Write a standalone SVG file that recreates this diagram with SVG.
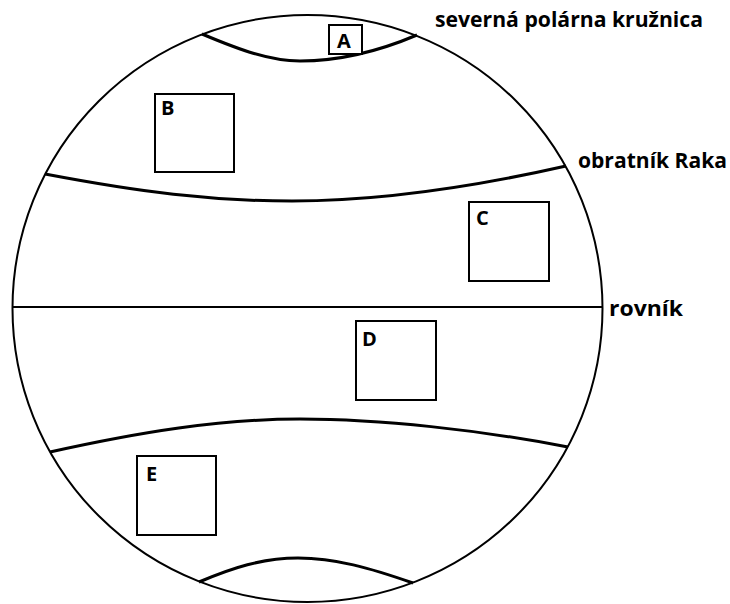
<svg xmlns="http://www.w3.org/2000/svg" width="730" height="604" viewBox="0 0 730 604">
<style>
.globe{fill:none;stroke:#000;stroke-width:2}
.lat{fill:none;stroke:#000;stroke-width:3;stroke-linejoin:round}
.eq{fill:none;stroke:#000;stroke-width:2}
.box{fill:#fff;stroke:#000;stroke-width:2}
.t{font-family:"Open Sans","Noto Sans","Liberation Sans",sans-serif;font-weight:700;font-size:21px;fill:#000}
.k{font-family:"Open Sans","Noto Sans","Liberation Sans",sans-serif;font-weight:700;font-size:20px;fill:#000}
</style>
<rect width="730" height="604" fill="#fff"/>
<g id="connectors">
<ellipse class="globe" cx="307.5" cy="308.5" rx="295" ry="293.5"/>
<path class="lat" d="M202,34 C240,50 270,61 300,61 C330,61 370,55 417,35"/>
<path class="lat" d="M45,174 C140,192 210,201 292,201 C370,201 460,190 566,166"/>
<line class="eq" x1="12" y1="307" x2="603" y2="307"/>
<path class="lat" d="M50,452 C140,432 220,419 300,419 C380,419 480,430 568,447"/>
<path class="lat" d="M199,582 C232,568 262,558 298,558 C335,558 370,568 413,583"/>
</g>
<g id="label-polar"><text class="t" x="435" y="27" textLength="268" lengthAdjust="spacingAndGlyphs">severná polárna kružnica</text></g>
<g id="label-cancer"><text class="t" x="578" y="168" textLength="149" lengthAdjust="spacingAndGlyphs">obratník Raka</text></g>
<g id="label-equator"><text class="t" x="609" y="316" textLength="74" lengthAdjust="spacingAndGlyphs">rovník</text></g>
<g id="node-A"><rect class="box" x="329" y="25" width="33" height="29"/><text class="k" x="337" y="48">A</text></g>
<g id="node-B"><rect class="box" x="155" y="94" width="79" height="78"/><text class="k" x="161" y="115">B</text></g>
<g id="node-C"><rect class="box" x="469" y="202" width="80" height="79"/><text class="k" x="476" y="225">C</text></g>
<g id="node-D"><rect class="box" x="356" y="321" width="80" height="79"/><text class="k" x="362" y="346">D</text></g>
<g id="node-E"><rect class="box" x="137" y="456" width="79" height="79"/><text class="k" x="146" y="481">E</text></g>
</svg>
